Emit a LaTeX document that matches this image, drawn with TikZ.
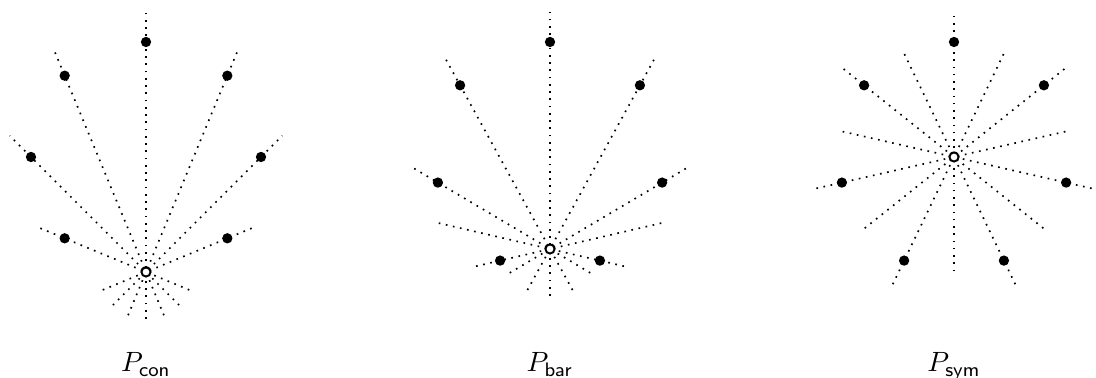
\documentclass[tikz,border=0pt]{standalone}
\usepackage{amsmath}
\usepackage{amssymb}
\usetikzlibrary{calc}

\begin{document}
\begin{tikzpicture}[x=0.0126cm, y=0.0126cm]
        % Stili
        \tikzstyle{punto} = [circle, fill=black, inner sep=0pt, minimum size=0.13cm]
        \tikzstyle{origine} = [circle, draw=black, fill=white, line width=0.7pt, inner sep=0pt, minimum size=0.115cm]
        \tikzstyle{raggio} = [dotted, line width=0.6pt]

        \useasboundingbox (0,0) rectangle (1096,378);

        % Centri
        \coordinate (con-c) at (146,221);
        \coordinate (bar-c) at (550,221);
        \coordinate (sym-c) at (954,221);

        % Origini
        \coordinate (con-o) at ($(con-c)+(270:115)$);
        \coordinate (bar-o) at ($(bar-c)+(270:92)$);
        \coordinate (sym-o) at (sym-c);

        % Vertici
        \foreach \k in {0,1,2,3,5,6,7}
            \coordinate (con-\k) at ($(con-c)+(90+45*\k:115)$);
        \foreach \k in {0,...,6} {
            \coordinate (bar-\k) at ($(bar-c)+(90+360/7*\k:115)$);
            \coordinate (sym-\k) at ($(sym-c)+(90+360/7*\k:115)$);
        }

        % Raggi
        \foreach \k in {0,1,2,3,5,6,7}
            \draw [raggio] ($(con-o)!-0.59cm!(con-\k)$) -- ($(con-\k)!-0.38cm!(con-o)$);
        \foreach \k/\l in {0/0.59,1/0.59,2/0.59,3/1.44,4/1.44,5/0.59,6/0.59}
            \draw [raggio] ($(bar-o)!-\l cm!(bar-\k)$) -- ($(bar-\k)!-0.38cm!(bar-o)$);
        \foreach \k in {0,...,6}
            \draw [raggio] ($(sym-o)!-1.44cm!(sym-\k)$) -- ($(sym-\k)!-0.4cm!(sym-o)$);

        % Punti
        \foreach \k in {0,1,2,3,5,6,7}
            \node [punto] (con-p\k) at (con-\k) {};
        \foreach \k in {0,...,6} {
            \node [punto] (bar-p\k) at (bar-\k) {};
            \node [punto] (sym-p\k) at (sym-\k) {};
        }
        \node [origine] (con-po) at (con-o) {};
        \node [origine] (bar-po) at (bar-o) {};
        \node [origine] (sym-po) at (sym-o) {};

        % Etichette
        \node [anchor=base] (con-lab) at (146,6) {$P_{\mathsf{con}}$};
        \node [anchor=base] (bar-lab) at (550,6) {$P_{\mathsf{bar}}$};
        \node [anchor=base] (sym-lab) at (954,6) {$P_{\mathsf{sym}}$};

    \end{tikzpicture}
\end{document}
